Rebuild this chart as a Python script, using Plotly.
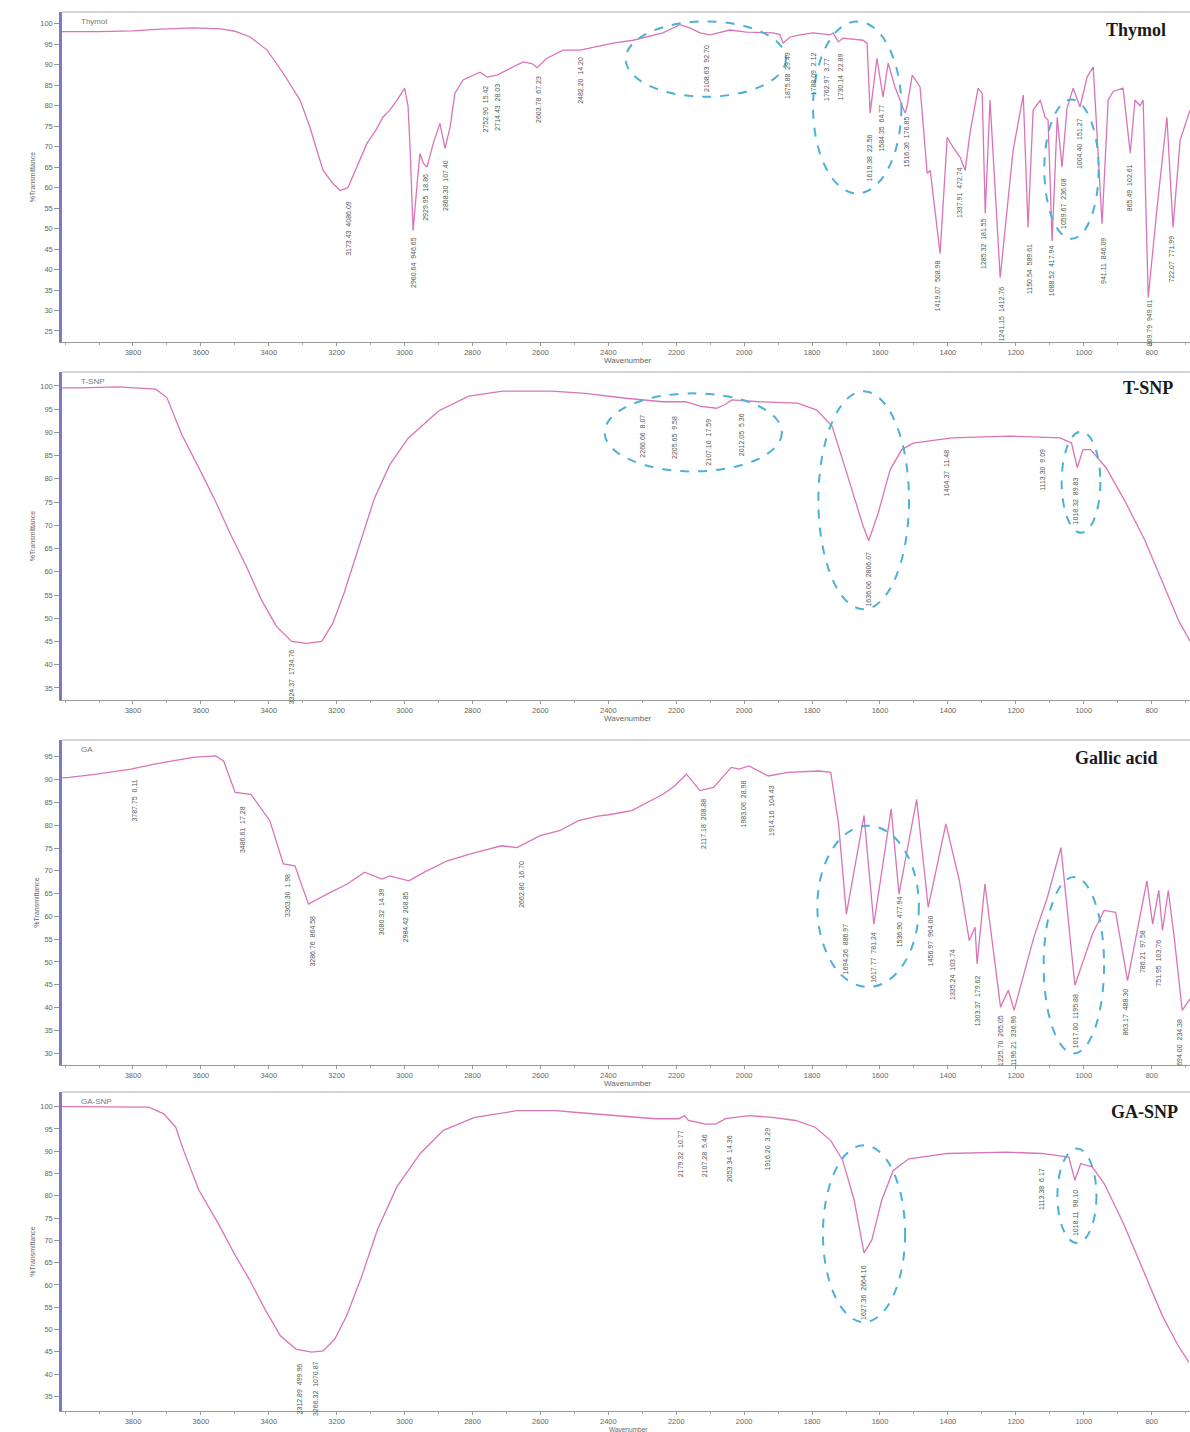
import plotly.graph_objects as go

# ---------------- data (wavenumber cm-1, %T) ----------------
thymol_pts = [(4009, 98.1), (3900, 98.1), (3800, 98.3), (3720, 98.7), (3620, 99.0), (3540, 98.8),
              (3500, 98.2), (3455, 96.8), (3405, 93.6), (3358, 88.0), (3308, 81.4), (3279, 74.8),
              (3258, 69.0), (3240, 64.2), (3211, 61.0), (3190, 59.3), (3167, 60.0), (3140, 65.0),
              (3111, 70.8), (3085, 74.0), (3064, 77.2), (3043, 79.0), (3022, 81.4), (3000, 84.3),
              (2990, 80.0), (2984, 70.0), (2975, 49.5), (2962, 62.0), (2955, 68.3), (2945, 66.0),
              (2934, 65.0), (2915, 71.0), (2896, 75.7), (2881, 69.6), (2866, 74.8), (2852, 83.0),
              (2828, 86.3), (2778, 88.2), (2757, 87.0), (2728, 87.5), (2681, 89.5), (2651, 90.7),
              (2625, 90.3), (2610, 89.3), (2581, 91.6), (2533, 93.6), (2483, 93.6), (2386, 95.3),
              (2327, 96.0), (2239, 97.8), (2189, 99.8), (2160, 99.0), (2130, 97.8), (2100, 97.3),
              (2042, 98.5), (1992, 98.0), (1915, 97.8), (1895, 97.4), (1885, 95.3), (1865, 96.8),
              (1835, 97.3), (1797, 97.8), (1747, 97.3), (1738, 97.8), (1723, 95.6), (1709, 96.5),
              (1650, 96.0), (1638, 95.3), (1629, 78.2), (1609, 91.6), (1591, 82.1), (1576, 90.4),
              (1556, 84.6), (1526, 78.2), (1520, 80.0), (1505, 87.5), (1482, 84.6), (1461, 63.5),
              (1452, 64.2), (1423, 43.9), (1402, 72.3), (1385, 69.9), (1364, 67.4), (1349, 64.2),
              (1335, 73.3), (1311, 84.3), (1299, 83.0), (1290, 53.7), (1276, 81.4), (1246, 38.0),
              (1208, 69.1), (1178, 82.6), (1164, 50.3), (1149, 78.9), (1128, 81.4), (1114, 77.2),
              (1105, 76.5), (1093, 47.0), (1078, 77.2), (1064, 65.0), (1049, 79.5), (1031, 84.3),
              (1011, 79.7), (990, 87.0), (972, 89.5), (946, 51.2), (928, 81.4), (913, 83.5),
              (884, 84.3), (863, 68.4), (849, 81.4), (834, 80.0), (825, 81.4), (810, 33.2),
              (784, 55.1), (755, 77.2), (737, 50.3), (716, 71.6), (687, 78.9)]

tsnp_pts = [(4009, 99.6), (3955, 99.6), (3844, 99.8), (3733, 99.3), (3700, 97.5), (3656, 89.5),
            (3600, 81.5), (3556, 75.0), (3511, 67.8), (3467, 61.3), (3422, 54.0), (3378, 48.3),
            (3333, 45.0), (3289, 44.6), (3244, 45.0), (3211, 49.0), (3178, 55.5), (3133, 65.6),
            (3089, 75.8), (3044, 83.0), (2989, 88.8), (2900, 94.6), (2811, 97.8), (2711, 98.9),
            (2567, 98.9), (2468, 98.4), (2355, 97.4), (2241, 96.6), (2173, 96.6), (2127, 95.6),
            (2082, 95.2), (2059, 95.9), (2036, 97.0), (1957, 96.6), (1843, 96.3), (1786, 94.8),
            (1741, 91.3), (1695, 80.6), (1650, 69.9), (1633, 66.7), (1605, 72.7), (1570, 82.0),
            (1536, 86.3), (1502, 87.7), (1389, 88.8), (1218, 89.2), (1070, 88.8), (1036, 87.7),
            (1019, 82.4), (1002, 86.3), (980, 86.3), (934, 82.4), (877, 75.0), (820, 66.8),
            (764, 56.9), (718, 49.1), (686, 45.0)]

ga_pts = [(4009, 90.4), (3987, 90.5), (3908, 91.2), (3806, 92.3), (3737, 93.4), (3624, 94.9),
          (3556, 95.2), (3533, 94.1), (3499, 87.2), (3453, 86.8), (3397, 81.0), (3357, 71.5),
          (3323, 71.1), (3283, 62.7), (3226, 65.0), (3169, 67.1), (3118, 69.7), (3067, 68.2),
          (3044, 68.9), (2987, 67.8), (2942, 69.7), (2874, 72.2), (2806, 73.7), (2715, 75.5),
          (2669, 75.1), (2648, 75.9), (2601, 77.7), (2544, 78.8), (2488, 81.0), (2431, 82.0),
          (2400, 82.3), (2331, 83.2), (2239, 86.8), (2205, 88.6), (2170, 91.2), (2130, 87.6),
          (2090, 88.3), (2038, 92.7), (2015, 92.3), (1986, 93.0), (1929, 90.8), (1871, 91.6),
          (1779, 91.9), (1745, 91.6), (1722, 80.3), (1699, 60.5), (1647, 82.1), (1618, 58.3),
          (1567, 83.6), (1544, 64.9), (1492, 85.7), (1458, 62.0), (1406, 80.3), (1366, 67.8),
          (1337, 54.7), (1320, 57.6), (1314, 49.6), (1291, 67.1), (1245, 40.1), (1222, 43.8),
          (1205, 39.4), (1147, 55.4), (1107, 64.2), (1067, 75.1), (1026, 44.9), (974, 56.2),
          (940, 61.3), (906, 60.9), (871, 45.9), (814, 67.8), (797, 58.3), (779, 65.7),
          (768, 56.9), (751, 65.7), (733, 55.1), (710, 39.4), (676, 43.0)]

gasnp_pts = [(4009, 100.0), (3983, 100.0), (3869, 100.0), (3754, 99.9), (3709, 98.4), (3674, 95.4),
             (3651, 90.2), (3606, 81.3), (3549, 73.8), (3503, 67.2), (3457, 61.2), (3411, 54.5),
             (3366, 48.6), (3320, 45.6), (3274, 44.9), (3240, 45.2), (3206, 47.8), (3171, 53.0),
             (3126, 62.0), (3080, 72.4), (3023, 82.0), (2954, 89.5), (2886, 94.7), (2794, 97.6),
             (2669, 99.1), (2554, 99.1), (2492, 98.7), (2377, 98.0), (2262, 97.3), (2193, 97.3),
             (2176, 98.0), (2164, 96.9), (2113, 96.1), (2084, 96.1), (2055, 97.3), (1986, 98.0),
             (1917, 97.6), (1848, 96.9), (1791, 95.4), (1745, 92.4), (1710, 88.0), (1676, 79.0),
             (1647, 67.2), (1624, 70.1), (1595, 79.0), (1561, 85.7), (1515, 88.3), (1400, 89.5),
             (1228, 89.8), (1124, 89.5), (1078, 89.1), (1044, 88.7), (1026, 83.5), (1009, 87.2),
             (975, 86.5), (940, 82.8), (883, 73.8), (825, 63.4), (768, 53.0), (722, 46.4),
             (690, 42.6)]

# peak labels: (wavenumber position, %T position of label centre, text)
thymol_labels = [(3166, 50.0, "3173.43  4086.09"), (2974, 41.7, "2960.64  946.65"),
                 (2939, 57.6, "2929.95  18.86"), (2880, 60.5, "2868.30  107.40"),
                 (2762, 79.2, "2752.90  15.42"), (2726, 79.7, "2714.43  28.03"),
                 (2608, 81.6, "2603.78  67.23"), (2481, 86.3, "2482.20  14.20"),
                 (2113, 89.2, "2108.63  92.70"), (1874, 87.5, "1875.88  29.49"),
                 (1797, 87.7, "1788.09  2.12"), (1756, 86.3, "1762.97  3.77"),
                 (1717, 87.0, "1730.14  22.89"), (1632, 67.2, "1619.38  22.56"),
                 (1596, 74.5, "1584.35  64.77"), (1523, 71.1, "1516.36  176.85"),
                 (1428, 36.0, "1419.07  508.98"), (1366, 58.8, "1337.91  472.74"),
                 (1293, 46.3, "1285.32  181.55"), (1242, 29.2, "1241.15  1412.76"),
                 (1160, 40.2, "1150.54  589.61"), (1095, 39.7, "1088.52  417.94"),
                 (1060, 56.1, "1059.67  236.08"), (1012, 70.8, "1004.40  151.27"),
                 (942, 42.2, "941.11  846.09"), (865, 60.0, "865.49  102.61"),
                 (806, 27.0, "809.79  949.01"), (741, 42.6, "722.07  771.99")]

tsnp_labels = [(3333, 37.4, "3324.37  1734.76"), (2298, 89.3, "2266.66  8.07"),
               (2207, 89.0, "2205.65  9.58"), (2105, 87.9, "2107.10  17.59"),
               (2008, 89.5, "2012.05  5.36"), (1633, 58.5, "1636.06  2806.07"),
               (1406, 81.2, "1404.37  11.48"), (1122, 82.0, "1113.30  9.09"),
               (1025, 75.2, "1018.32  89.83")]

ga_labels = [(3794, 85.4, "3787.75  0.11"), (3478, 79.0, "3486.61  17.28"),
             (3345, 64.6, "3363.30  1.98"), (3274, 54.6, "3286.76  864.58"),
             (3067, 61.1, "3080.32  14.39"), (2999, 60.0, "2984.42  208.85"),
             (2658, 67.1, "2662.80  16.70"), (2118, 80.3, "2117.18  208.88"),
             (2003, 84.6, "1983.06  28.98"), (1920, 83.2, "1914.16  104.43"),
             (1701, 52.9, "1694.26  886.97"), (1618, 51.1, "1617.77  781.24"),
             (1544, 58.7, "1536.90  477.94"), (1452, 54.6, "1456.97  964.00"),
             (1386, 47.3, "1335.24  103.74"), (1314, 41.4, "1303.37  179.62"),
             (1245, 32.8, "1225.70  265.05"), (1207, 32.8, "1196.21  336.96"),
             (1026, 37.0, "1017.00  1195.88"), (877, 39.0, "863.17  488.30"),
             (825, 52.2, "786.21  97.58"), (779, 49.8, "751.95  103.76"),
             (716, 32.3, "694.00  234.38")]

gasnp_labels = [(3309, 36.7, "3312.89  499.96"), (3263, 36.7, "3266.32  1070.87"),
                (2187, 89.5, "2179.32  10.77"), (2118, 88.9, "2107.28  5.46"),
                (2041, 88.3, "2053.34  14.36"), (1932, 90.4, "1916.20  3.29"),
                (1647, 58.2, "1627.36  2664.16"), (1126, 81.5, "1113.38  6.17"),
                (1026, 76.1, "1018.11  98.10")]

# highlighted regions: (centre wn, centre %T, width wn, height %T)
thymol_rings = [(2113, 91.4, 472, 18.4), (1667, 79.6, 260, 42.0), (1036, 64.5, 160, 34.0)]
tsnp_rings = [(2150, 90.0, 522, 16.8), (1648, 75.4, 267, 46.9), (1008, 79.3, 114, 21.8)]
ga_rings = [(1635, 62.2, 299, 35.4), (1029, 49.3, 178, 38.7)]
gasnp_rings = [(1647, 71.5, 242, 39.7), (1020, 80.0, 115, 21.2)]

panel_names = ["Thymol", "T-SNP", "GA", "GA-SNP"]
panel_titles = ["Thymol", "T-SNP", "Gallic acid", "GA-SNP"]
y_ranges = [(22.3, 102.9), (32.4, 103.0), (27.4, 98.7), (31.7, 103.3)]
y_ticks = [list(range(25, 101, 5)), list(range(35, 101, 5)), list(range(30, 96, 5)), list(range(35, 101, 5))]
x_ticks = list(range(3800, 799, -200))
x_range = (4009, 687)

spectra = [thymol_pts, tsnp_pts, ga_pts, gasnp_pts]
labels = [thymol_labels, tsnp_labels, ga_labels, gasnp_labels]
rings = [thymol_rings, tsnp_rings, ga_rings, gasnp_rings]

# ---------------- layout geometry ----------------
W, H = 1190, 1432
ML, MR, MT, MB = 62, 0, 12, 17
plot_h = H - MT - MB
panel_px = [(12, 342), (372, 700), (740, 1065), (1092, 1411)]
title_right_px = [1168, 1175, 1160, 1180]
title_dy = [18, 16, 18, 20]

LINE = "#da74b8"
RING = "#4bb2d6"
AXIS_L = "#7b7bc2"
TXT = "#666666"

fig = go.Figure()
layout = dict(width=W, height=H, margin=dict(l=ML, r=MR, t=MT, b=MB, pad=0),
              paper_bgcolor="white", plot_bgcolor="white", showlegend=False,
              font=dict(family="Liberation Sans, Arial", size=8, color=TXT))
shapes, annos = [], []

for i in range(4):
    n = "" if i == 0 else str(i + 1)
    xa, ya = "x" + n, "y" + n
    top, bot = panel_px[i]
    dom = [(H - MB - bot) / plot_h, (H - MB - top) / plot_h]
    pts = spectra[i]
    fig.add_trace(go.Scatter(x=[p[0] for p in pts], y=[p[1] for p in pts], mode="lines",
                             line=dict(color=LINE, width=1.3), xaxis=xa, yaxis=ya,
                             hoverinfo="skip"))
    layout["xaxis" + n] = dict(domain=[0, 1], anchor=ya, range=list(x_range),
                               tickvals=x_ticks, ticks="outside", ticklen=3, tickcolor="#999",
                               showline=True, linecolor="#999", linewidth=1, showgrid=False,
                               zeroline=False, tickfont=dict(size=7.5, color=TXT),
                               minor=dict(dtick=100, ticks="outside", ticklen=2, tickcolor="#aaa"))
    layout["yaxis" + n] = dict(domain=dom, anchor=xa, range=list(y_ranges[i]),
                               tickvals=y_ticks[i], ticks="outside", ticklen=5, tickcolor="#999",
                               showline=True, linecolor=AXIS_L, linewidth=2.5, showgrid=False,
                               zeroline=False, tickfont=dict(size=7.5, color=TXT),
                               title=dict(text="%Transmittance", font=dict(size=7, color=TXT),
                                          standoff=4))
    # top border
    shapes.append(dict(type="line", xref="x" + n + " domain", yref="y" + n + " domain",
                       x0=0, x1=1, y0=1, y1=1, line=dict(color="#d4d4dc", width=2)))
    # dashed rings
    for (cx, cy, w, h) in rings[i]:
        shapes.append(dict(type="circle", xref=xa, yref=ya, x0=cx + w / 2, x1=cx - w / 2,
                           y0=cy - h / 2, y1=cy + h / 2,
                           line=dict(color=RING, width=2, dash="dash")))
    # peak labels
    for (lx, ly, t) in labels[i]:
        annos.append(dict(x=lx, y=ly, xref=xa, yref=ya, text=t, showarrow=False,
                          textangle=-90, xanchor="center", yanchor="middle",
                          font=dict(size=7, color="#555555")))
    # small panel name (top-left)
    annos.append(dict(x=0.015, y=1, xref="x" + n + " domain", yref="y" + n + " domain",
                      text=panel_names[i], showarrow=False, xanchor="left", yanchor="top",
                      yshift=-3, font=dict(size=8, color="#777777")))
    # big title (top-right)
    annos.append(dict(x=(title_right_px[i] - ML) / (W - ML - MR), y=1,
                      xref="x" + n + " domain", yref="y" + n + " domain",
                      text="<b>" + panel_titles[i] + "</b>", showarrow=False,
                      xanchor="right", yanchor="middle", yshift=-title_dy[i],
                      font=dict(size=18, color="#1a1a1a", family="Liberation Serif, Times New Roman")))
    # x-axis title
    last = (i == 3)
    annos.append(dict(x=(628 - ML) / (W - ML - MR), y=0, xref="x" + n + " domain",
                      yref="y" + n + " domain", text="Wavenumber", showarrow=False,
                      xanchor="center", yanchor="top", yshift=(-12.5 if last else -12),
                      font=dict(size=(6.5 if last else 8), color=TXT)))

layout["shapes"] = shapes
layout["annotations"] = annos
fig.update_layout(**layout)
fig.write_html("out.html", config={"displayModeBar": False},
               post_script="document.body.style.margin='0';document.body.style.overflow='hidden';")
